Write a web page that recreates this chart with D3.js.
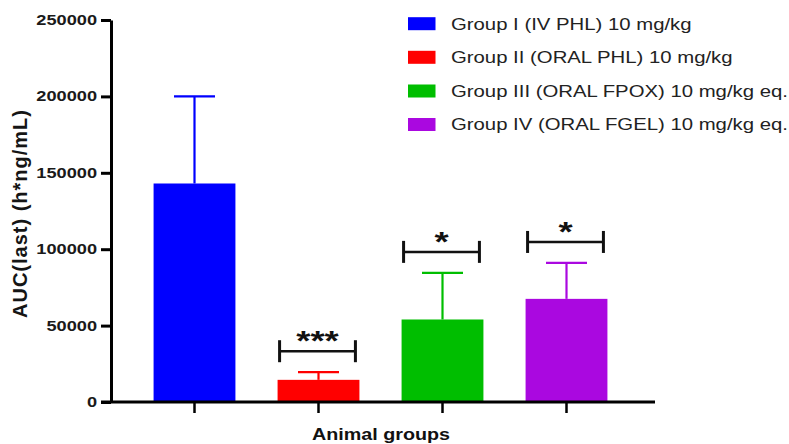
<!DOCTYPE html>
<html><head><meta charset="utf-8">
<script src="https://cdn.jsdelivr.net/npm/d3@7"></script>
<style>body{margin:0;background:#fff}svg{display:block}text{font-family:"Liberation Sans",Arial,Helvetica,sans-serif}</style>
</head><body><svg id="c" width="789" height="444"></svg>
<script>
const groups = ["Group I (IV PHL) 10 mg/kg", "Group II (ORAL PHL) 10 mg/kg", "Group III (ORAL FPOX) 10 mg/kg eq.", "Group IV (ORAL FGEL) 10 mg/kg eq."];
const means = [143000, 14500, 54000, 67500];
const errors = [57000, 5000, 30500, 23500];
const significance = ["", "***", "*", "*"];
const colors = ["#0000FF", "#FF0000", "#00BE00", "#AA08E0"];
const yTicks = [0, 50000, 100000, 150000, 200000, 250000];
const yTitle = "AUC(last) (h*ng/mL)";
const xTitle = "Animal groups";

const svg = d3.select("#c");
const idx = d3.range(groups.length);
const x = d3.scaleBand().domain(idx).range([132.5, 628.5]).paddingInner(0.34).paddingOuter(0.17);
const y = d3.scaleLinear().domain([0, 250000]).range([402, 20]);
const bw = x.bandwidth();

function stretch(sel, k) {
  sel.each(function () {
    const L = this.getComputedTextLength();
    this.setAttribute("textLength", L * k);
    this.setAttribute("lengthAdjust", "spacingAndGlyphs");
  });
}
function fitTo(sel, w, mode) {
  sel.attr("textLength", w).attr("lengthAdjust", mode || "spacingAndGlyphs");
}

// bars
svg.append("g").selectAll("rect").data(idx).join("rect")
  .attr("x", i => x(i)).attr("y", i => y(means[i]))
  .attr("width", bw).attr("height", i => y(0) - y(means[i]))
  .attr("fill", i => colors[i]);

// error bars
const eb = svg.append("g").selectAll("g").data(idx).join("g")
  .attr("stroke", i => colors[i]).attr("stroke-width", 2.2);
eb.append("line")
  .attr("x1", i => x(i) + bw / 2).attr("x2", i => x(i) + bw / 2)
  .attr("y1", i => y(means[i])).attr("y2", i => y(means[i] + errors[i]));
eb.append("line")
  .attr("x1", i => x(i) + bw / 2 - 20.5).attr("x2", i => x(i) + bw / 2 + 20.5)
  .attr("y1", i => y(means[i] + errors[i])).attr("y2", i => y(means[i] + errors[i]));

// significance brackets
const sig = idx.filter(i => significance[i]);
const br = svg.append("g").selectAll("g").data(sig).join("g");
const by = i => y(means[i] + errors[i]) - 21;
const bl = i => x(i) + 2, brr = i => x(i) + bw - 4;
br.append("line").attr("stroke", "#111").attr("stroke-width", 2.5)
  .attr("x1", bl).attr("x2", brr)
  .attr("y1", by).attr("y2", by);
br.append("line").attr("stroke", "#111").attr("stroke-width", 3)
  .attr("x1", bl).attr("x2", bl)
  .attr("y1", i => by(i) - 11).attr("y2", i => by(i) + 11);
br.append("line").attr("stroke", "#111").attr("stroke-width", 3)
  .attr("x1", brr).attr("x2", brr)
  .attr("y1", i => by(i) - 11).attr("y2", i => by(i) + 11);
br.append("text").attr("text-anchor", "middle")
  .attr("x", i => (bl(i) + brr(i)) / 2).attr("y", i => by(i) - 17 + 15.7)
  .attr("font-size", 28).attr("font-weight", "bold").attr("fill", "#111")
  .text(i => significance[i])
  .call(stretch, 1.3);

// y axis
const ya = svg.append("g").attr("transform", "translate(111,0)")
  .call(d3.axisLeft(y).tickValues(yTicks).tickFormat(d3.format("d")).tickSize(10).tickSizeOuter(0).tickPadding(4));
ya.select(".domain").attr("stroke", "#000").attr("stroke-width", 3);
ya.selectAll(".tick line").attr("stroke", "#000").attr("stroke-width", 3);
ya.selectAll(".tick text").attr("font-size", 14).attr("font-weight", "bold")
  .attr("fill", "#1a1a1a").attr("font-family", null).call(stretch, 1.3);

// x axis
const xa = svg.append("g").attr("transform", "translate(0,402)")
  .call(d3.axisBottom(x).tickFormat("").tickSize(11).tickSizeOuter(0));
xa.select(".domain").remove();
xa.selectAll(".tick line").attr("stroke", "#000").attr("stroke-width", 2.5);
xa.append("line").attr("x1", 101).attr("x2", 655).attr("y1", 0).attr("y2", 0)
  .attr("stroke", "#000").attr("stroke-width", 3);

// axis titles
svg.append("text").attr("transform", "translate(27,214) rotate(-90)")
  .attr("text-anchor", "middle").attr("font-size", 20).attr("font-weight", "bold")
  .attr("fill", "#151515").text(yTitle).call(fitTo, 208, "spacing");
svg.append("text").attr("x", 381).attr("y", 439.5)
  .attr("text-anchor", "middle").attr("font-size", 17).attr("font-weight", "bold")
  .attr("fill", "#111").text(xTitle).call(fitTo, 138);

// legend
const rowY = [23.7, 57.3, 91, 124.5];
const lg = svg.append("g").selectAll("g").data(idx).join("g");
lg.append("rect").attr("x", 408).attr("y", i => rowY[i] - 6.5)
  .attr("width", 27.5).attr("height", 13).attr("fill", i => colors[i]);
lg.append("text").attr("x", 451).attr("y", i => rowY[i] + 5.8)
  .attr("font-size", 16).attr("fill", "#222").text(i => groups[i])
  .call(stretch, 1.27);
</script></body></html>
